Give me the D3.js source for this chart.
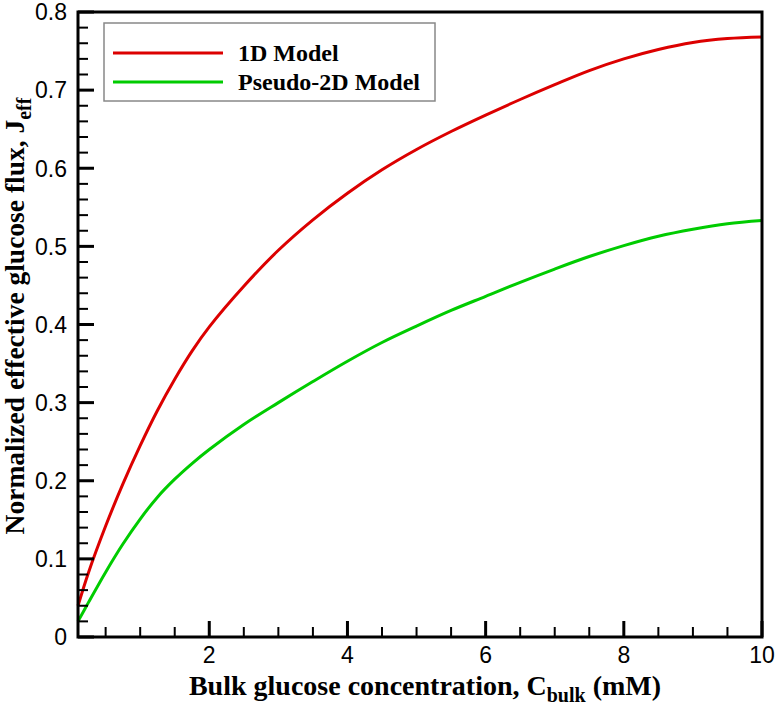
<!DOCTYPE html>
<html>
<head>
<meta charset="utf-8">
<script src="https://cdn.jsdelivr.net/npm/d3@7"></script>
<style>
  body { margin: 0; background: #fff; }
  .ticklabel { font-family: "Liberation Sans", Arial, sans-serif; font-size: 23px; fill: #000; }
  .title { font-family: "Liberation Serif", "Times New Roman", serif; font-weight: bold; fill: #000; }
</style>
</head>
<body>
<svg id="chart" width="778" height="710"></svg>
<script>
// bulk glucose concentration (mM)
var conc = [0.1, 0.25, 0.5, 0.75, 1.0, 1.25, 1.5, 1.75, 2.0, 2.5, 3.0, 3.5, 4.0, 4.5, 5.0,
            5.5, 6.0, 6.5, 7.0, 7.5, 8.0, 8.5, 9.0, 9.5, 10.0];
// normalized effective glucose flux
var flux1D = [0.040, 0.082, 0.142, 0.196, 0.245, 0.290, 0.330, 0.366, 0.397, 0.449, 0.495, 0.534, 0.568, 0.598, 0.624,
              0.647, 0.668, 0.688, 0.707, 0.725, 0.740, 0.752, 0.761, 0.766, 0.768];
var fluxP2D = [0.020, 0.044, 0.083, 0.119, 0.151, 0.179, 0.202, 0.222, 0.240, 0.272, 0.300, 0.327, 0.353, 0.377, 0.398,
               0.418, 0.436, 0.454, 0.471, 0.487, 0.501, 0.513, 0.522, 0.529, 0.533];
var seriesNames = ['1D Model', 'Pseudo-2D Model'];
var seriesColors = ['#dc0000', '#00cc00'];
var xTicks = [2, 4, 6, 8, 10];
var xMinor = [0.5, 1, 1.5, 2.5, 3, 3.5, 4.5, 5, 5.5, 6.5, 7, 7.5, 8.5, 9, 9.5];
var yTicks = [0, 0.1, 0.2, 0.3, 0.4, 0.5, 0.6, 0.7, 0.8];
var yMinor = d3.range(1, 40).filter(function(i){ return i % 5 !== 0; }).map(function(i){ return i * 0.02; });

var svg = d3.select('#chart');
var margin = {top: 12, left: 78, right: 16, bottom: 73};
var width = 778 - margin.left - margin.right;
var height = 710 - margin.top - margin.bottom;

var x = d3.scaleLinear().domain([0.1, 10]).range([0, width]);
var y = d3.scaleLinear().domain([0, 0.8]).range([height, 0]);

var g = svg.append('g')
    .attr('transform', 'translate(' + margin.left + ',' + margin.top + ')');

// curves
var line = d3.line().curve(d3.curveCatmullRom.alpha(0.5))
    .x(function(d){ return x(d[0]); })
    .y(function(d){ return y(d[1]); });
[flux1D, fluxP2D].forEach(function(vals, i){
    g.append('path')
        .datum(conc.map(function(c, j){ return [c, vals[j]]; }))
        .attr('fill', 'none')
        .attr('stroke', seriesColors[i])
        .attr('stroke-width', 3)
        .attr('d', line);
});

// ticks pointing inwards (no ticks on top and right)
g.selectAll('.xminor').data(xMinor).enter().append('rect')
    .attr('x', function(d){ return x(d) - 1; }).attr('y', height - 10)
    .attr('width', 2).attr('height', 10).attr('fill', '#000');
g.selectAll('.xmajor').data(xTicks).enter().append('rect')
    .attr('x', function(d){ return x(d) - 1.5; }).attr('y', height - 16)
    .attr('width', 3).attr('height', 16).attr('fill', '#000');
g.selectAll('.yminor').data(yMinor).enter().append('rect')
    .attr('x', 0).attr('y', function(d){ return y(d) - 1; })
    .attr('width', 10).attr('height', 2).attr('fill', '#000');
g.selectAll('.ymajor').data(yTicks).enter().append('rect')
    .attr('x', 0).attr('y', function(d){ return y(d) - 1.5; })
    .attr('width', 16).attr('height', 3).attr('fill', '#000');

// tick labels
g.selectAll('.xlab').data(xTicks).enter().append('text')
    .attr('class', 'ticklabel')
    .attr('x', function(d){ return x(d); }).attr('y', height + 26)
    .attr('text-anchor', 'middle')
    .text(d3.format('d'));
g.selectAll('.ylab').data(yTicks).enter().append('text')
    .attr('class', 'ticklabel')
    .attr('x', -11).attr('y', function(d){ return y(d); }).attr('dy', '0.36em')
    .attr('text-anchor', 'end')
    .text(function(d){ return d === 0 ? '0' : d3.format('.1f')(d); });

// frame
g.append('rect')
    .attr('width', width).attr('height', height)
    .attr('fill', 'none').attr('stroke', '#000').attr('stroke-width', 3);

// legend
var legend = g.append('g').attr('transform', 'translate(26,11)');
legend.append('rect')
    .attr('width', 331).attr('height', 78)
    .attr('fill', '#fff').attr('stroke', '#888').attr('stroke-width', 1.5);
seriesNames.forEach(function(name, i){
    var ly = 30 + i * 29;
    legend.append('line')
        .attr('x1', 9).attr('x2', 119).attr('y1', ly).attr('y2', ly)
        .attr('stroke', seriesColors[i]).attr('stroke-width', 3);
    legend.append('text')
        .attr('class', 'title')
        .attr('x', 134).attr('y', ly + 8)
        .style('font-size', '24px')
        .text(name);
});

// axis titles
var xt = svg.append('text')
    .attr('class', 'title')
    .attr('x', 425).attr('y', 695)
    .attr('text-anchor', 'middle')
    .style('font-size', '28px');
xt.append('tspan').text('Bulk glucose concentration, C');
xt.append('tspan').attr('dy', 7).style('font-size', '20px').text('bulk');
xt.append('tspan').attr('dy', -7).text(' (mM)');

var yt = svg.append('text')
    .attr('class', 'title')
    .attr('transform', 'translate(24,316) rotate(-90)')
    .attr('text-anchor', 'middle')
    .style('font-size', '27.5px');
yt.append('tspan').text('Normalized effective glucose flux, J');
yt.append('tspan').attr('dy', 7).style('font-size', '20px').text('eff');
</script>
</body>
</html>
